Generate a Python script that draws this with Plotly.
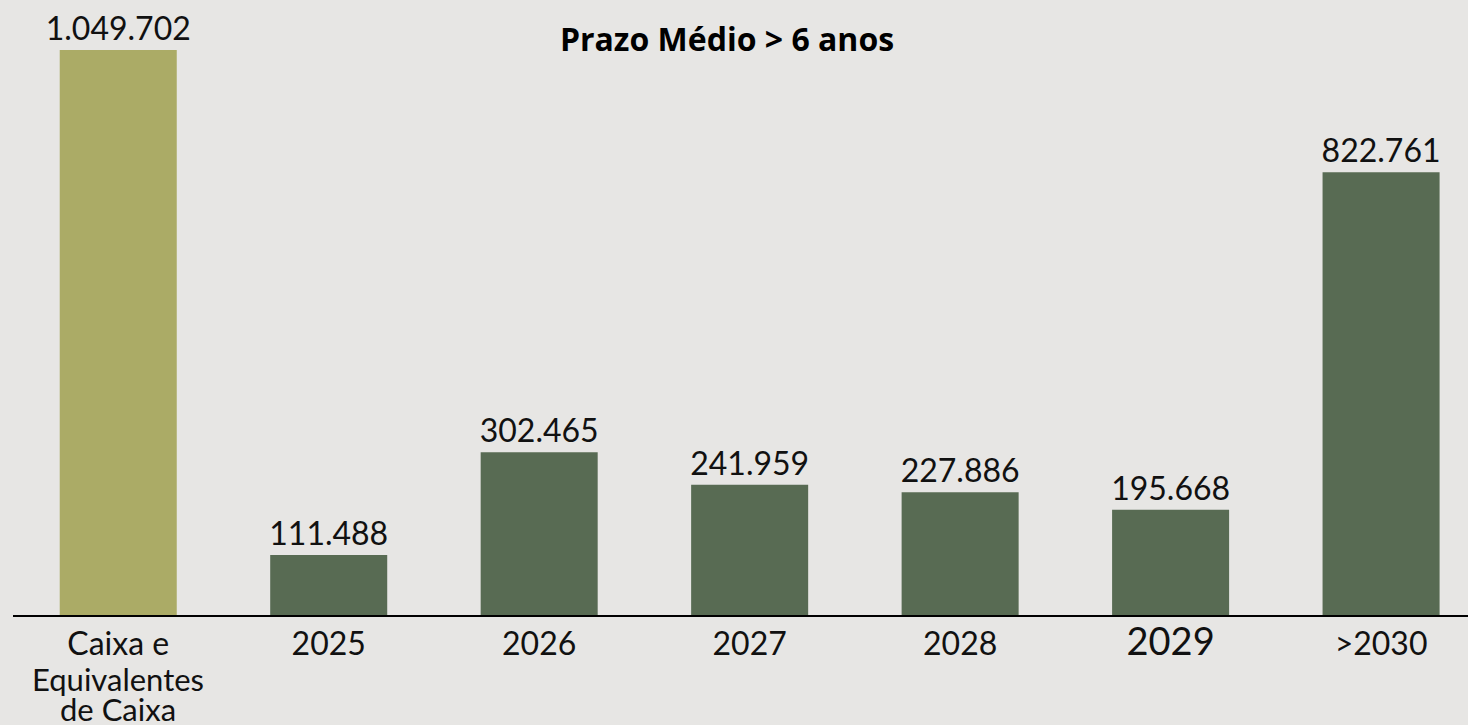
import plotly.graph_objects as go

categories = ["Caixa e Equivalentes de Caixa", "2025", "2026", "2027", "2028", "2029", ">2030"]
tick_labels = ["Caixa e", "2025", "2026", "2027", "2028",
               '<span style="font-size:38px">2029</span>', ">2030"]
extra_label_lines = ["Equivalentes", "de Caixa"]
values = [1049702, 111488, 302465, 241959, 227886, 195668, 822761]
value_labels = ["1.049.702", "111.488", "302.465", "241.959", "227.886", "195.668", "822.761"]
bar_colors = ["#ABAB66", "#586B53", "#586B53", "#586B53", "#586B53", "#586B53", "#586B53"]
title_text = "Prazo Médio > 6 anos"

BG = "#E7E6E4"
FONT = "Lato"
TICK_SIZE = 32

fig = go.Figure(go.Bar(
    x=list(range(len(categories))),
    y=values,
    marker=dict(color=bar_colors, line=dict(width=0)),
    text=value_labels,
    textposition="outside",
    textfont=dict(family=FONT, size=32, color="#111111"),
    constraintext="none",
    cliponaxis=False,
    hovertext=categories,
))

for i, line in enumerate(extra_label_lines):
    fig.add_annotation(
        x=0, xref="x", y=0, yref="paper", text=line, showarrow=False,
        yanchor="middle", xanchor="center", yshift=-(64 + 30 * i), borderpad=0,
        font=dict(family=FONT, size=31, color="#111111"),
    )

fig.update_layout(
    width=1468, height=725,
    paper_bgcolor=BG, plot_bgcolor=BG,
    margin=dict(l=13, r=0, t=0, b=110),
    bargap=0.444,
    showlegend=False,
    title=dict(text="<b>" + title_text + "</b>", x=727 / 1468, xanchor="center",
               y=1 - 40 / 725, yanchor="middle", yref="container",
               font=dict(family="Open Sans", size=32, color="#000000")),
    xaxis=dict(
        tickmode="array", tickvals=list(range(len(categories))), ticktext=tick_labels,
        range=[-0.5, 6.413], showgrid=False, zeroline=False,
        showline=True, linecolor="#000000", linewidth=2,
        ticks="", tickfont=dict(family=FONT, size=TICK_SIZE, color="#111111"),
        automargin=False, fixedrange=True,
    ),
    yaxis=dict(
        range=[0, 1049702 * 615 / 565], visible=False, showgrid=False, zeroline=False,
        automargin=False,
    ),
)

fig.write_html("out.html", config={"displayModeBar": False},
               post_script="document.body.style.margin='0';document.body.style.overflow='hidden';")
